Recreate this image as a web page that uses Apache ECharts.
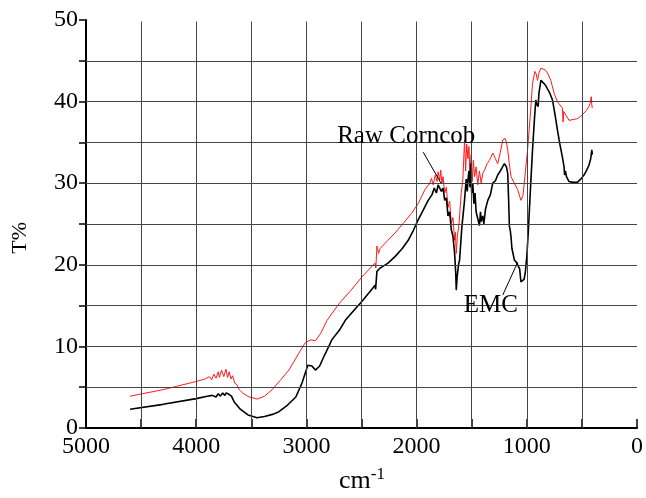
<!DOCTYPE html>
<html><head><meta charset="utf-8">
<script src="https://cdn.jsdelivr.net/npm/echarts@6/dist/echarts.min.js"></script>
<style>html,body{margin:0;padding:0;background:#fff}#c{width:646px;height:498px}</style>
</head><body><div id="c"></div>
<script>
const xTicks = [5000, 4000, 3000, 2000, 1000, 0];
const yTicks = [0, 10, 20, 30, 40, 50];
const xGrid = [4500, 4000, 3500, 3000, 2500, 2000, 1500, 1000, 500];
const yGrid = [5, 10, 15, 20, 25, 30, 35, 40, 45];

const rawWn = [4600,4300,4000,3920,3880,3860,3840,3820,3800,3790,3770,3750,3730,3715,3700,3685,3670,3650,3630,3610,3580,3520,3445,3380,3310,3240,3159,3069,3008,2960,2918,2870,2812,2700,2600,2497,2400,2377,2370,2360,2345,2331,2260,2196,2120,2046,1986,1925,1880,1865,1850,1830,1815,1805,1790,1781,1770,1760,1745,1730,1715,1700,1685,1670,1655,1648,1640,1630,1615,1595,1580,1565,1555,1545,1534,1525,1515,1505,1495,1485,1474,1460,1445,1430,1414,1400,1384,1360,1339,1325,1309,1285,1264,1240,1218,1197,1185,1173,1160,1143,1113,1083,1053,1047,1035,1023,993,970,948,927,915,903,890,872,857,835,812,782,752,722,677,671,665,647,617,580,542,510,481,460,436,425,415,410,406];
const rawT = [3.9,4.7,5.7,6.0,6.3,5.9,6.6,6.1,6.9,6.2,7.1,6.3,7.2,6.2,6.9,6.0,6.4,5.5,5.3,4.7,4.3,3.8,3.55,3.9,4.7,5.8,7.1,9.15,10.5,10.8,10.7,11.6,13.2,15.3,16.8,18.5,19.9,20.2,19.6,22.3,21.4,22.0,23.0,23.9,25.1,26.3,27.5,29.2,30.0,30.6,29.8,31.0,30.2,31.4,30.4,31.6,30.0,30.8,28.8,29.5,27.0,27.8,25.1,25.8,23.0,24.0,21.4,23.5,25.0,28.8,30.5,35.3,31.5,34.8,33.0,34.5,31.0,33.5,30.2,32.8,30.8,32.0,29.8,31.5,30.0,31.2,31.6,32.4,32.8,33.2,33.7,33.0,32.4,33.8,35.3,35.5,35.0,34.1,32.5,30.8,30.0,29.2,27.9,27.7,28.5,30.0,34.1,38.0,42.2,43.7,43.4,42.6,43.5,44.1,44.3,43.9,43.5,42.6,41.0,40.0,39.2,37.5,38.8,38.6,37.7,37.8,37.9,38.2,38.6,38.9,39.4,39.8,40.6,39.6,39.2];

const emcWn = [4600,4300,4000,3900,3854,3820,3800,3780,3760,3740,3727,3700,3680,3655,3600,3530,3448,3380,3300,3249,3180,3096,3040,2987,2950,2918,2880,2843,2800,2770,2700,2647,2570,2497,2430,2377,2372,2360,2345,2331,2260,2196,2130,2076,2030,1986,1940,1895,1860,1840,1820,1805,1790,1775,1760,1745,1730,1715,1700,1685,1670,1655,1645,1640,1632,1620,1610,1590,1565,1550,1540,1534,1525,1515,1510,1500,1490,1480,1470,1460,1444,1430,1420,1414,1400,1390,1375,1354,1330,1309,1285,1264,1240,1220,1203,1185,1173,1165,1158,1150,1143,1135,1113,1095,1083,1065,1053,1038,1025,1014,1000,987,968,948,930,918,910,897,890,872,866,850,830,812,790,767,745,722,700,677,662,657,650,640,617,580,542,510,481,460,436,420,410,406];
const emcT = [2.3,2.9,3.6,3.9,4.0,3.8,4.2,3.9,4.3,4.0,4.3,4.1,3.9,3.2,2.3,1.6,1.26,1.4,1.7,2.0,2.7,3.8,5.5,7.7,7.6,7.1,7.6,8.7,9.9,10.8,12.0,13.2,14.4,15.5,16.6,17.5,17.0,19.2,19.0,19.6,20.2,21.0,22.0,23.0,24.2,25.5,26.7,27.9,28.6,29.4,28.8,29.8,30.0,29.0,29.4,27.9,28.2,26.0,26.5,24.3,23.5,21.4,19.0,16.9,18.5,20.0,20.6,24.5,27.9,30.5,29.0,30.4,31.5,29.5,32.4,28.8,30.0,27.5,28.8,26.5,26.7,24.8,26.5,25.3,26.0,25.0,26.8,27.9,28.6,30.0,30.3,31.0,31.5,32.0,32.4,32.0,31.2,28.0,24.7,24.2,23.4,22.0,20.6,20.3,20.2,19.5,17.9,17.7,18.2,19.0,21.0,23.9,29.0,34.1,38.0,40.2,39.7,39.4,41.0,42.6,42.8,42.3,42.0,41.8,41.0,40.2,38.5,36.5,34.8,33.2,32.0,31.0,31.5,30.8,30.2,30.1,30.1,30.5,31.0,31.5,32.2,33.0,34.1,33.5];

const rawLabel = {text: 'Raw Corncob', at: [2094, 35.7], from: [1940, 33.8], to: [1778, 30.0]};
const emcLabel = {text: 'EMC', at: [1327, 15.0], from: [1218, 16.3], to: [1083, 20.3]};

const FONT = '"Liberation Serif", "Times New Roman", serif';
const zip = (a, b) => a.map((v, i) => [v, b[i]]);

const chart = echarts.init(document.getElementById('c'), null, {renderer: 'canvas'});

function annot(l) {
  return {
    markLine: {
      silent: true, symbol: ['none', 'none'],
      lineStyle: {color: '#000', width: 1, type: 'solid'},
      label: {show: false},
      data: [[{coord: l.from}, {coord: l.to}]]
    },
    markPoint: {
      silent: true, symbol: 'circle', symbolSize: 0,
      label: {show: true, formatter: l.text, color: '#000', fontFamily: FONT, fontSize: 25, position: 'inside'},
      data: [{coord: l.at}]
    }
  };
}

chart.setOption({
  animation: false,
  backgroundColor: '#fff',
  grid: {left: 86, right: 3, top: 20, bottom: 70},
  xAxis: {
    type: 'value', inverse: true, min: 0, max: 5000, interval: 500,
    axisLine: {show: true, onZero: false, lineStyle: {color: '#000', width: 2}},
    axisTick: {show: true, inside: true, length: 9, lineStyle: {color: '#000', width: 1.5}},
    axisLabel: {
      margin: 7, color: '#000', fontFamily: FONT, fontSize: 24,
      formatter: v => xTicks.includes(v) ? String(v) : ''
    },
    splitLine: {show: false}
  },
  yAxis: {
    type: 'value', position: 'left', min: 0, max: 50, interval: 5,
    axisLine: {show: true, onZero: false, lineStyle: {color: '#000', width: 2}},
    axisTick: {show: true, inside: false, length: 7, lineStyle: {color: '#000', width: 1.5}},
    axisLabel: {
      margin: 8, color: '#000', fontFamily: FONT, fontSize: 24,
      formatter: v => yTicks.includes(v) ? String(v) : ''
    },
    splitLine: {show: false}
  },
  graphic: [
    {type: 'rect', left: 88, top: 18.5, z: 100, silent: true,
     shape: {width: 560, height: 3}, style: {fill: '#fff'}},
    {type: 'text', left: 9, top: 222, rotation: Math.PI / 2,
     style: {text: 'T%', fill: '#000', font: '22px ' + FONT}},
    {type: 'text', left: 339, top: 466,
     style: {rich: {m: {fontFamily: FONT, fontSize: 26, fill: '#000'}, s: {fontFamily: FONT, fontSize: 17, fill: '#000', verticalAlign: 'top', padding: [0, 0, 14, 0]}},
             text: '{m|cm}{s|-1}'}}
  ],
  series: [
    {
      type: 'line', name: 'grid', data: [], silent: true, z: 1,
      markLine: {
        silent: true, symbol: ['none', 'none'], label: {show: false},
        lineStyle: {color: '#444', width: 1, type: 'solid'},
        data: xGrid.map(v => ({xAxis: v})).concat(yGrid.map(v => ({yAxis: v})))
      }
    },
    Object.assign({
      type: 'line', name: 'Raw Corncob', data: zip(rawWn, rawT), showSymbol: false,
      lineStyle: {color: '#ff1a1a', width: 1}, z: 2
    }, annot(rawLabel)),
    Object.assign({
      type: 'line', name: 'EMC', data: zip(emcWn, emcT), showSymbol: false,
      lineStyle: {color: '#000', width: 1.6}, z: 3
    }, annot(emcLabel))
  ]
});
</script></body></html>
